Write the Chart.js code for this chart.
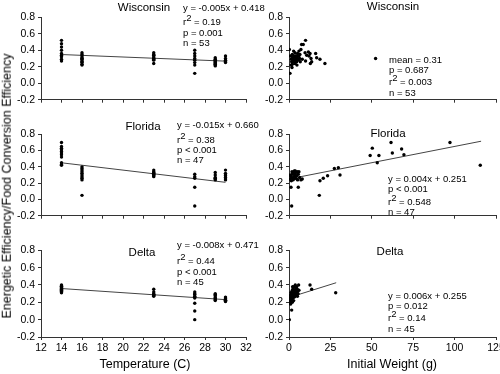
<!DOCTYPE html>
<html>
<head>
<meta charset="utf-8">
<script src="https://cdn.jsdelivr.net/npm/chart.js@4/dist/chart.umd.min.js"></script>
<style>
  body { margin: 0; background: #fff; }
  #wrap { position: relative; width: 500px; height: 374px; overflow: hidden; font-family: "Liberation Sans", Arial, sans-serif; color: #000; }
  canvas { position: absolute; }
  .lbl { position: absolute; white-space: nowrap; line-height: 1; }
  .lbl sup { font-size: 1em; vertical-align: 0; position: relative; top: -0.45em; }
</style>
</head>
<body>
<div id="wrap"></div>
<script>
// temperature panels: efficiencies listed per temperature
const temps = [14, 16, 23, 27, 29, 30];
const wiTemp = [
  [0.52, 0.48, 0.44, 0.40, 0.36, 0.34, 0.32, 0.29, 0.27],
  [0.37, 0.35, 0.33, 0.31, 0.30, 0.29, 0.27, 0.26, 0.25, 0.23, 0.22],
  [0.37, 0.35, 0.34, 0.33, 0.31, 0.30, 0.29, 0.28, 0.24],
  [0.40, 0.36, 0.33, 0.30, 0.28, 0.25, 0.22, 0.12],
  [0.31, 0.29, 0.28, 0.27, 0.26, 0.25, 0.24, 0.23, 0.22, 0.21],
  [0.33, 0.30, 0.28, 0.27, 0.26, 0.25]
];
const flTemp = [
  [0.70, 0.65, 0.63, 0.61, 0.59, 0.57, 0.55, 0.52, 0.45, 0.43, 0.42],
  [0.40, 0.38, 0.36, 0.34, 0.32, 0.30, 0.28, 0.26, 0.24, 0.05],
  [0.36, 0.34, 0.33, 0.32, 0.31, 0.30, 0.29, 0.28],
  [0.31, 0.28, 0.26, 0.15, -0.08],
  [0.33, 0.30, 0.27, 0.26, 0.25, 0.24],
  [0.36, 0.32, 0.30, 0.29, 0.27, 0.25, 0.24]
];
const deTemp = [
  [0.40, 0.39, 0.385, 0.38, 0.37, 0.36, 0.355, 0.35, 0.34, 0.33, 0.325, 0.32, 0.31],
  [],
  [0.35, 0.32, 0.30, 0.29, 0.285, 0.28, 0.27],
  [0.32, 0.30, 0.29, 0.27, 0.26, 0.25, 0.19, 0.10, 0.00],
  [0.30, 0.29, 0.28, 0.26, 0.25, 0.24, 0.23, 0.22],
  [0.26, 0.25, 0.24, 0.23, 0.225, 0.22, 0.215, 0.21]
];

// weight panels
const wiWeight = [0.2, 0.6, 1.0, 1.6, 1.2, 2.0, 2.6, 2.0, 3.2, 3.0, 3.6, 4.0, 3.6, 4.6, 4.6, 5.2, 5.2, 5.6, 6.0, 6.0,
  6.6, 7.2, 7.6, 8.6, 10.0, 9.7, 10.0, 10.7, 11.7, 12.1, 12.7, 13.3, 13.7, 12.9, 16.1, 16.7, 18.7, 21.7, 52.3, 1.4,
  2.2, 2.4, 2.8, 3.4, 3.8, 4.2, 4.4, 4.8, 1.8, 2.8, 6.4, 6.8, 8.0];
const wiWeightEff = [0.41, 0.12, 0.33, 0.26, 0.22, 0.35, 0.29, 0.23, 0.32, 0.26, 0.37, 0.29, 0.24, 0.33, 0.26, 0.36, 0.30, 0.28, 0.39, 0.33,
  0.35, 0.41, 0.47, 0.47, 0.52, 0.37, 0.27, 0.34, 0.38, 0.33, 0.36, 0.30, 0.26, 0.24, 0.36, 0.31, 0.29, 0.24, 0.30, 0.29,
  0.31, 0.27, 0.33, 0.28, 0.33, 0.26, 0.30, 0.22, 0.19, 0.39, 0.30, 0.26, 0.29];
const flWeight = [1.2, 1.6, 5.6, 0.6, 1.0, 1.6, 2.0, 2.4, 2.6, 3.0, 3.2, 3.6, 4.0, 4.2, 4.6, 5.0, 5.6, 6.0, 6.4, 7.2,
  8.0, 1.4, 2.2, 2.8, 3.4, 4.8, 0.8, 3.8, 1.8, 5.2, 18.3, 18.7, 20.7, 23.3, 27.4, 29.8, 30.8, 49.0, 50.3, 53.3,
  54.3, 61.6, 62.4, 68.0, 69.4, 97.2, 115.5];
const flWeightEff = [0.15, -0.08, 0.15, 0.25, 0.29, 0.27, 0.31, 0.24, 0.33, 0.28, 0.35, 0.29, 0.26, 0.33, 0.29, 0.34, 0.31, 0.34, 0.27, 0.24,
  0.25, 0.23, 0.26, 0.25, 0.31, 0.25, 0.30, 0.35, 0.34, 0.24, 0.05, 0.23, 0.26, 0.29, 0.38, 0.39, 0.30, 0.54, 0.63, 0.45,
  0.54, 0.70, 0.57, 0.62, 0.55, 0.70, 0.42];
const deWeight = [0.2, 1.6, 12.7, 13.7, 28.2, 0.3, 0.5, 0.6, 0.8, 0.9, 1.0, 1.1, 1.2, 1.3, 1.5, 1.6, 1.8, 1.9, 2.0, 2.1,
  2.3, 2.4, 2.5, 2.7, 2.8, 3.0, 3.1, 3.2, 3.4, 3.5, 3.7, 3.8, 4.0, 4.1, 4.3, 4.5, 4.6, 4.8, 5.0, 5.1,
  5.3, 5.5, 5.8, 6.0, 2.2];
const deWeightEff = [0.00, 0.11, 0.40, 0.35, 0.31, 0.22, 0.25, 0.20, 0.28, 0.23, 0.18, 0.31, 0.26, 0.21, 0.29, 0.24, 0.33, 0.27, 0.20, 0.30,
  0.35, 0.25, 0.28, 0.32, 0.22, 0.38, 0.29, 0.26, 0.34, 0.31, 0.27, 0.40, 0.30, 0.36, 0.33, 0.28, 0.38, 0.31, 0.35, 0.27,
  0.33, 0.30, 0.40, 0.34, 0.38];

// regression line end points [x, y]
const wiTempFit = [[14, 0.348], [30, 0.268]];
const flTempFit = [[14, 0.45], [30, 0.21]];
const deTempFit = [[14, 0.359], [30, 0.231]];
const flWeightFit = [[6, 0.275], [116, 0.715]];
const deWeightFit = [[5, 0.285], [28.5, 0.426]];

const tempTicks = { min: 12, max: 32, step: 2 };
const weightTicks = { min: 0, max: 125, step: 25 };
const effTicks = { min: -0.2, max: 0.8, step: 0.2 };

const wrap = document.getElementById("wrap");
const cols = [{ l: 41, r: 246 }, { l: 289, r: 496 }];
const rows = [{ t: 16, b: 103 }, { t: 133, b: 219 }, { t: 249, b: 337 }];

const tempPoints = vals => {
  const pts = [];
  temps.forEach((t, i) => vals[i].forEach(v => pts.push({ x: t, y: v })));
  return pts;
};
const weightPoints = (xs, ys) => xs.map((x, i) => ({ x: x, y: ys[i] }));

function makePanel(col, row, xt, points, fit, showX) {
  const yW = 41, padT = 8, padR = 12, xH = showX ? 20 : 6;
  const c = document.createElement("canvas");
  c.width = yW + col.r - col.l + padR;
  c.height = padT + row.b - row.t + xH;
  c.style.left = (col.l - yW) + "px";
  c.style.top = (row.t - padT) + "px";
  wrap.appendChild(c);

  const datasets = [{
    data: points,
    showLine: false,
    pointRadius: 1.7,
    pointBorderWidth: 0,
    pointBackgroundColor: "#000"
  }];
  if (fit) {
    datasets.push({
      data: fit.map(p => ({ x: p[0], y: p[1] })),
      showLine: true,
      borderColor: "#444",
      borderWidth: 1,
      pointRadius: 0
    });
  }

  const axisGrid = { drawOnChartArea: false, drawTicks: true, tickLength: 3, color: "#333" };
  new Chart(c, {
    type: "scatter",
    data: { datasets },
    options: {
      responsive: false,
      animation: false,
      devicePixelRatio: 1,
      layout: { padding: { top: padT, right: padR, left: 0, bottom: 0 } },
      plugins: { legend: { display: false }, tooltip: { enabled: false } },
      scales: {
        x: {
          type: "linear", min: xt.min, max: xt.max,
          afterFit: s => { s.height = xH; },
          ticks: { stepSize: xt.step, display: showX, color: "#000", font: { family: "Liberation Sans", size: 10.5 }, padding: 2, maxRotation: 0, autoSkip: false },
          grid: axisGrid,
          border: { color: "#333", width: 1 }
        },
        y: {
          min: effTicks.min, max: effTicks.max,
          afterFit: s => { s.width = yW; },
          ticks: { stepSize: effTicks.step, color: "#000", font: { family: "Liberation Sans", size: 10.5 }, padding: 3, callback: v => v.toFixed(1) },
          grid: axisGrid,
          border: { color: "#333", width: 1 }
        }
      }
    }
  });
}

makePanel(cols[0], rows[0], tempTicks, tempPoints(wiTemp), wiTempFit, false);
makePanel(cols[0], rows[1], tempTicks, tempPoints(flTemp), flTempFit, false);
makePanel(cols[0], rows[2], tempTicks, tempPoints(deTemp), deTempFit, true);
makePanel(cols[1], rows[0], weightTicks, weightPoints(wiWeight, wiWeightEff), null, false);
makePanel(cols[1], rows[1], weightTicks, weightPoints(flWeight, flWeightEff), flWeightFit, false);
makePanel(cols[1], rows[2], weightTicks, weightPoints(deWeight, deWeightEff), deWeightFit, true);

// text: [html, x, centre y, size, align]
const texts = [
  ["Wisconsin", 144, 8, 11.5, "c"], ["Florida", 143, 127, 11.5, "c"], ["Delta", 142, 253, 11.5, "c"],
  ["Wisconsin", 393, 7, 11.5, "c"], ["Florida", 388, 134, 11.5, "c"], ["Delta", 390, 252, 11.5, "c"],
  ["y = -0.005x + 0.418", 183, 8, 9.5, "l"], ["r<sup>2</sup> = 0.19", 183, 22, 9.5, "l"], ["p = 0.001", 183, 33, 9.5, "l"], ["n = 53", 183, 43, 9.5, "l"],
  ["y = -0.015x + 0.660", 177, 125, 9.5, "l"], ["r<sup>2</sup> = 0.38", 177, 140, 9.5, "l"], ["p &lt; 0.001", 177, 150, 9.5, "l"], ["n = 47", 177, 160, 9.5, "l"],
  ["y = -0.008x + 0.471", 177, 245, 9.5, "l"], ["r<sup>2</sup> = 0.44", 177, 261, 9.5, "l"], ["p &lt; 0.001", 177, 272, 9.5, "l"], ["n = 45", 177, 282, 9.5, "l"],
  ["mean = 0.31", 389, 60, 9.5, "l"], ["p = 0.687", 389, 70, 9.5, "l"], ["r<sup>2</sup> = 0.003", 389, 82, 9.5, "l"], ["n = 53", 389, 93, 9.5, "l"],
  ["y = 0.004x + 0.251", 388, 179, 9.5, "l"], ["p &lt; 0.001", 388, 189, 9.5, "l"], ["r<sup>2</sup> = 0.548", 388, 202, 9.5, "l"], ["n = 47", 388, 212, 9.5, "l"],
  ["y = 0.006x + 0.255", 388, 296, 9.5, "l"], ["p = 0.012", 388, 306, 9.5, "l"], ["r<sup>2</sup> = 0.14", 388, 318, 9.5, "l"], ["n = 45", 388, 329, 9.5, "l"],
  ["Temperature (C)", 145, 364, 12.5, "c"], ["Initial Weight (g)", 392, 364, 12.5, "c"]
];
texts.forEach(t => {
  const d = document.createElement("div");
  d.className = "lbl";
  d.innerHTML = t[0];
  d.style.left = t[1] + "px";
  d.style.top = t[2] + "px";
  d.style.fontSize = t[3] + "px";
  d.style.transform = t[4] === "c" ? "translate(-50%, -50%)" : "translate(0, -50%)";
  wrap.appendChild(d);
});

const yTitle = document.createElement("div");
yTitle.className = "lbl";
yTitle.textContent = "Energetic Efficiency/Food Conversion Efficiency";
yTitle.style.left = "7px";
yTitle.style.top = "186px";
yTitle.style.fontSize = "12.5px";
yTitle.style.transform = "translate(-50%, -50%) rotate(-90deg)";
wrap.appendChild(yTitle);
</script>
</body>
</html>
